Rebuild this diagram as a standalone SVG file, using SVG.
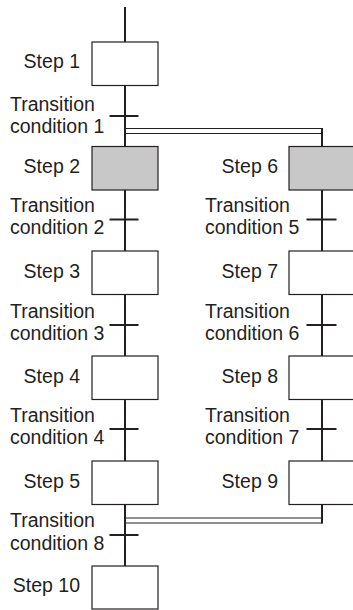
<svg xmlns="http://www.w3.org/2000/svg" width="353" height="610" viewBox="0 0 353 610">
<style>
.box{fill:#ffffff;stroke:#231f20;stroke-width:1.2}
.act{fill:#c8c8c8;stroke:#231f20;stroke-width:1.2}
.ln{stroke:#231f20;stroke-width:2;fill:none}
.thin{stroke:#231f20;stroke-width:1.2;fill:none}
text{font-family:"Liberation Sans",Arial,sans-serif;font-size:19.5px;fill:#231f20}
.r{text-anchor:end}
</style>
<rect width="353" height="610" fill="#ffffff"/>
<g id="connectors">
<line class="ln" x1="125" y1="7" x2="125" y2="566"/>
<line class="ln" x1="322" y1="128" x2="322" y2="461"/>
<line class="ln" x1="322" y1="504" x2="322" y2="523.5"/>
<line class="thin" x1="125" y1="128.5" x2="322" y2="128.5"/>
<line class="thin" x1="125" y1="133.5" x2="322" y2="133.5"/>
<line class="thin" x1="125" y1="518" x2="322" y2="518"/>
<line class="thin" x1="125" y1="523" x2="322" y2="523"/>
</g>
<g id="step1"><rect class="box" x="92" y="42" width="66" height="43.5"/><text class="r" x="80" y="68">Step 1</text></g>
<g id="t1"><line class="ln" x1="109.5" y1="116" x2="138.5" y2="116"/><text x="10" y="110.7">Transition</text><text x="10" y="132.7">condition 1</text></g>
<g id="step2"><rect class="act" x="92" y="146.5" width="66" height="43.5"/><text class="r" x="80" y="173">Step 2</text></g>
<g id="t2"><line class="ln" x1="109.5" y1="219.5" x2="138.5" y2="219.5"/><text x="10" y="212">Transition</text><text x="10" y="234">condition 2</text></g>
<g id="step3"><rect class="box" x="92" y="251" width="66" height="43.5"/><text class="r" x="80" y="277.5">Step 3</text></g>
<g id="t3"><line class="ln" x1="109.5" y1="325" x2="138.5" y2="325"/><text x="10" y="317.5">Transition</text><text x="10" y="339.5">condition 3</text></g>
<g id="step4"><rect class="box" x="92" y="356" width="66" height="43.5"/><text class="r" x="80" y="382.5">Step 4</text></g>
<g id="t4"><line class="ln" x1="109.5" y1="429" x2="138.5" y2="429"/><text x="10" y="421.5">Transition</text><text x="10" y="443.5">condition 4</text></g>
<g id="step5"><rect class="box" x="92" y="461" width="66" height="43.5"/><text class="r" x="80" y="487.5">Step 5</text></g>
<g id="t8"><line class="ln" x1="109.5" y1="535" x2="138.5" y2="535"/><text x="10" y="527">Transition</text><text x="10" y="549.5">condition 8</text></g>
<g id="step10"><rect class="box" x="92" y="566" width="66" height="43"/><text class="r" x="80" y="592">Step 10</text></g>
<g id="step6"><rect class="act" x="289" y="146.5" width="66" height="43.5"/><text class="r" x="278" y="173">Step 6</text></g>
<g id="t5"><line class="ln" x1="306.5" y1="219.5" x2="336.5" y2="219.5"/><text x="205" y="212">Transition</text><text x="205" y="234">condition 5</text></g>
<g id="step7"><rect class="box" x="289" y="251" width="66" height="43.5"/><text class="r" x="278" y="277.5">Step 7</text></g>
<g id="t6"><line class="ln" x1="306.5" y1="325" x2="336.5" y2="325"/><text x="205" y="317.5">Transition</text><text x="205" y="339.5">condition 6</text></g>
<g id="step8"><rect class="box" x="289" y="356" width="66" height="43.5"/><text class="r" x="278" y="382.5">Step 8</text></g>
<g id="t7"><line class="ln" x1="306.5" y1="429" x2="336.5" y2="429"/><text x="205" y="421.5">Transition</text><text x="205" y="443.5">condition 7</text></g>
<g id="step9"><rect class="box" x="289" y="461" width="66" height="43.5"/><text class="r" x="278" y="487.5">Step 9</text></g>
</svg>
